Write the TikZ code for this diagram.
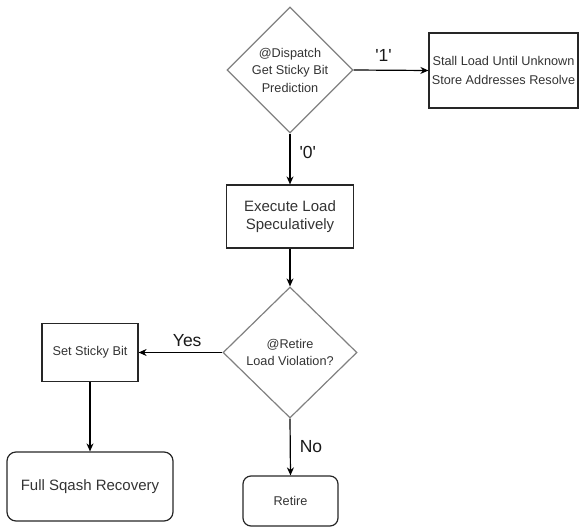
\documentclass[tikz,border=0pt]{standalone}
\usepackage{fontspec}
\setmainfont{Liberation Sans}
\usepackage{tikz}
\usetikzlibrary{arrows.meta,shapes.geometric}

\begin{document}
\begin{tikzpicture}[x=1pt, y=-1pt, >=Stealth,
	rombo/.style={diamond, draw=black!50, line width=1.2pt, inner sep=0pt, align=center, text=black!80, font=\fontsize{12.7}{17.5}\selectfont},
	blocco/.style={draw=black!85, line width=1.2pt, inner sep=0pt, align=center, text=black!80, font=\fontsize{12.7}{18.5}\selectfont},
	arrotondato/.style={blocco, rounded corners=9pt},
	link/.style={->, line width=1.2pt, >={Stealth[length=8pt, width=7pt]}},
	etichetta/.style={font=\fontsize{17.5}{20}\selectfont, inner sep=0pt, text=black!90}]

	\useasboundingbox (0,0) rectangle (579,527);

	% decisioni
	\node[rombo, minimum width=126pt, minimum height=126pt] (dispatch) at (290,70) {@Dispatch\\Get Sticky Bit\\Prediction};
	\node[rombo, minimum width=134pt, minimum height=131pt] (violation) at (290,352.5) {@Retire\\Load Violation?};

	% blocchi
	\node[blocco, minimum width=149pt, minimum height=75pt] (stall) at (503.5,70.5) {Stall Load Until Unknown\\Store Addresses Resolve};
	\node[blocco, minimum width=127pt, minimum height=63pt, font=\fontsize{15}{17.5}\selectfont] (execute) at (290,216.5) {Execute Load\\Speculatively};
	\node[blocco, minimum width=96pt, minimum height=58pt] (sticky) at (90,352.5) {Set Sticky Bit};
	\node[arrotondato, minimum width=166pt, minimum height=69pt, font=\fontsize{15}{18}\selectfont] (squash) at (90,486.5) {Full Sqash Recovery};
	\node[arrotondato, minimum width=95pt, minimum height=50pt, rounded corners=8pt] (retire) at (290.5,501) {Retire};

	% collegamenti
	\draw[link] (dispatch.east) -- node[etichetta, above=8pt, pos=0.4] {\textquotesingle 1\textquotesingle} (stall.west);
	\draw[link] (dispatch.south) -- node[etichetta, right=9pt, pos=0.37] {\textquotesingle 0\textquotesingle} (execute.north);
	\draw[link] (execute.south) -- (violation.north);
	\draw[link] (violation.west) -- node[etichetta, above=5.5pt, pos=0.42] {Yes} (sticky.east);
	\draw[link] (sticky.south) -- (squash.north);
	\draw[link] (violation.south) -- node[etichetta, right=9pt, pos=0.5] {No} (retire.north);
\end{tikzpicture}
\end{document}
